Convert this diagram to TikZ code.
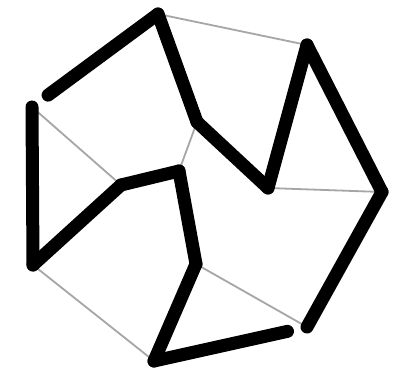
\documentclass[tikz,border=0pt]{standalone}
\begin{document}
\begin{tikzpicture}[x=1pt,y=-1pt,
  heavy/.style={line width=13pt,line cap=round,line join=round,black},
  light/.style={line width=1.8pt,gray!70},
  vdot/.style={fill=red!55!black,draw=none}]
\fill[white] (0,0) rectangle (401,374);
\useasboundingbox (0,0) rectangle (401,374);
\coordinate (A) at (158,14);
\coordinate (B) at (307,45);
\coordinate (C) at (382,192);
\coordinate (D) at (307,327);
\coordinate (E) at (154,361);
\coordinate (F) at (33,265);
\coordinate (G) at (32,107);
\coordinate (P) at (197,122);
\coordinate (Q) at (268,188);
\coordinate (R) at (196,264);
\coordinate (S) at (121,185);
\coordinate (T) at (179,171);
% thin matching edges
\draw[light] (A) -- (B);
\draw[light] (C) -- (Q);
\draw[light] (G) -- (S);
\draw[light] (F) -- (E);
\draw[light] (R) -- (D);
\draw[light] (T) -- (P);
% vertex dots
\foreach \v in {A,B,C,D,E,F,G,P,Q,R,S,T} \fill[vdot] (\v) circle (2.5pt);
% thick cycle
\draw[heavy, shorten >=20pt] (A) -- (G);
\draw[heavy] (G) -- (F);
\draw[heavy] (F) -- (S);
\draw[heavy] (S) -- (T);
\draw[heavy] (T) -- (R);
\draw[heavy] (R) -- (E);
\draw[heavy, shorten >=20pt] (E) -- (D);
\draw[heavy] (D) -- (C);
\draw[heavy] (C) -- (B);
\draw[heavy] (B) -- (Q);
\draw[heavy] (Q) -- (P);
\draw[heavy] (P) -- (A);
\end{tikzpicture}
\end{document}
